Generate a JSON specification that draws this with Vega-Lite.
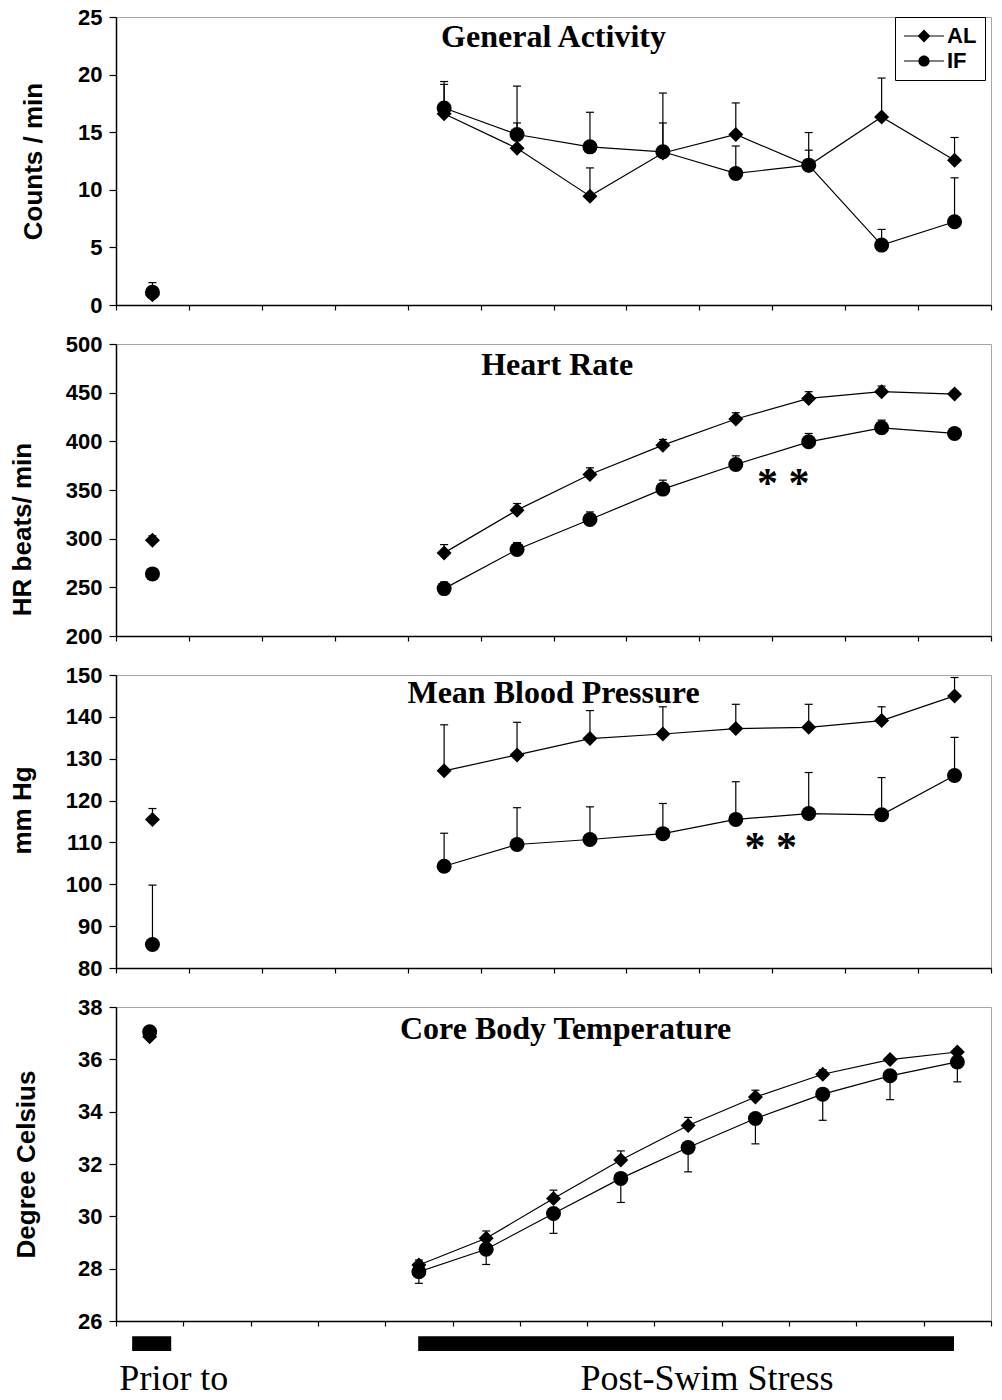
{
  "$schema": "https://vega.github.io/schema/vega-lite/v6.json",
  "background": "white",
  "padding": {"left": 8, "top": 5, "right": 5, "bottom": 0},
  "bounds": "flush",
  "spacing": 39,
  "config": {
    "font": "Liberation Sans",
    "view": {"stroke": "#a6a6a6", "strokeWidth": 1},
    "axis": {
      "domainColor": "black", "domainWidth": 1.5, "tickColor": "black", "tickWidth": 1.2,
      "grid": false, "labelFont": "Liberation Sans", "labelFontSize": 22, "labelFontWeight": "bold",
      "labelColor": "black", "labelPadding": 7, "tickSize": 7,
      "titleFont": "Liberation Sans", "titleFontSize": 26, "titleFontWeight": "bold", "titleColor": "black"
    },
    "axisX": {"labels": false, "tickSize": 5}
  },
  "datasets": {
    "ga": [
      {"g": "AL", "phase": "Prior", "slot": 0.5, "v": 0.9, "e": 1.6},
      {"g": "IF", "phase": "Prior", "slot": 0.5, "v": 1.1, "e": 1.94},
      {"g": "AL", "phase": "Post", "slot": 4.5, "v": 16.6, "e": 19.15},
      {"g": "IF", "phase": "Post", "slot": 4.5, "v": 17.1, "e": 19.4},
      {"g": "AL", "phase": "Post", "slot": 5.5, "v": 13.6, "e": 15.8},
      {"g": "IF", "phase": "Post", "slot": 5.5, "v": 14.8, "e": 19.0},
      {"g": "AL", "phase": "Post", "slot": 6.5, "v": 9.45, "e": 11.9},
      {"g": "IF", "phase": "Post", "slot": 6.5, "v": 13.73, "e": 16.73},
      {"g": "AL", "phase": "Post", "slot": 7.5, "v": 13.2, "e": 15.8},
      {"g": "IF", "phase": "Post", "slot": 7.5, "v": 13.3, "e": 18.4},
      {"g": "AL", "phase": "Post", "slot": 8.5, "v": 14.8, "e": 17.54},
      {"g": "IF", "phase": "Post", "slot": 8.5, "v": 11.42, "e": 13.8},
      {"g": "AL", "phase": "Post", "slot": 9.5, "v": 12.1, "e": 13.44},
      {"g": "IF", "phase": "Post", "slot": 9.5, "v": 12.14, "e": 14.97},
      {"g": "AL", "phase": "Post", "slot": 10.5, "v": 16.33, "e": 19.7},
      {"g": "IF", "phase": "Post", "slot": 10.5, "v": 5.2, "e": 6.56},
      {"g": "AL", "phase": "Post", "slot": 11.5, "v": 12.57, "e": 14.54},
      {"g": "IF", "phase": "Post", "slot": 11.5, "v": 7.23, "e": 11.04}
    ],
    "hr": [
      {"g": "AL", "phase": "Prior", "slot": 0.5, "v": 298.4, "e": 302.9},
      {"g": "IF", "phase": "Prior", "slot": 0.5, "v": 263.8, "e": 268.6},
      {"g": "AL", "phase": "Post", "slot": 4.5, "v": 285.4, "e": 293.9},
      {"g": "IF", "phase": "Post", "slot": 4.5, "v": 248.7, "e": 255.5},
      {"g": "AL", "phase": "Post", "slot": 5.5, "v": 329.3, "e": 336.1},
      {"g": "IF", "phase": "Post", "slot": 5.5, "v": 288.8, "e": 296.0},
      {"g": "AL", "phase": "Post", "slot": 6.5, "v": 365.9, "e": 372.8},
      {"g": "IF", "phase": "Post", "slot": 6.5, "v": 319.7, "e": 327.5},
      {"g": "AL", "phase": "Post", "slot": 7.5, "v": 396.1, "e": 401.9},
      {"g": "IF", "phase": "Post", "slot": 7.5, "v": 350.9, "e": 360.1},
      {"g": "AL", "phase": "Post", "slot": 8.5, "v": 422.9, "e": 429.4},
      {"g": "IF", "phase": "Post", "slot": 8.5, "v": 376.2, "e": 385.1},
      {"g": "AL", "phase": "Post", "slot": 9.5, "v": 444.1, "e": 451.0},
      {"g": "IF", "phase": "Post", "slot": 9.5, "v": 399.5, "e": 408.1},
      {"g": "AL", "phase": "Post", "slot": 10.5, "v": 451.0, "e": 456.8},
      {"g": "IF", "phase": "Post", "slot": 10.5, "v": 413.9, "e": 421.8},
      {"g": "AL", "phase": "Post", "slot": 11.5, "v": 448.6, "e": 452.0},
      {"g": "IF", "phase": "Post", "slot": 11.5, "v": 408.1, "e": 412.0}
    ],
    "bp": [
      {"g": "AL", "phase": "Prior", "slot": 0.5, "v": 115.5, "e": 118.1},
      {"g": "IF", "phase": "Prior", "slot": 0.5, "v": 85.6, "e": 99.8},
      {"g": "AL", "phase": "Post", "slot": 4.5, "v": 127.1, "e": 138.1},
      {"g": "IF", "phase": "Post", "slot": 4.5, "v": 104.3, "e": 112.2},
      {"g": "AL", "phase": "Post", "slot": 5.5, "v": 130.9, "e": 138.7},
      {"g": "IF", "phase": "Post", "slot": 5.5, "v": 109.5, "e": 118.3},
      {"g": "AL", "phase": "Post", "slot": 6.5, "v": 134.8, "e": 141.5},
      {"g": "IF", "phase": "Post", "slot": 6.5, "v": 110.7, "e": 118.5},
      {"g": "AL", "phase": "Post", "slot": 7.5, "v": 135.9, "e": 142.4},
      {"g": "IF", "phase": "Post", "slot": 7.5, "v": 112.1, "e": 119.3},
      {"g": "AL", "phase": "Post", "slot": 8.5, "v": 137.2, "e": 143.0},
      {"g": "IF", "phase": "Post", "slot": 8.5, "v": 115.5, "e": 124.5},
      {"g": "AL", "phase": "Post", "slot": 9.5, "v": 137.5, "e": 143.0},
      {"g": "IF", "phase": "Post", "slot": 9.5, "v": 116.9, "e": 126.7},
      {"g": "AL", "phase": "Post", "slot": 10.5, "v": 139.1, "e": 142.4},
      {"g": "IF", "phase": "Post", "slot": 10.5, "v": 116.6, "e": 125.5},
      {"g": "AL", "phase": "Post", "slot": 11.5, "v": 145.0, "e": 149.4},
      {"g": "IF", "phase": "Post", "slot": 11.5, "v": 126.0, "e": 135.1}
    ],
    "ct": [
      {"g": "AL", "phase": "Prior", "slot": 0.5, "v": 36.86, "e": 36.9},
      {"g": "IF", "phase": "Prior", "slot": 0.5, "v": 37.05, "e": 37.0},
      {"g": "AL", "phase": "Post", "slot": 4.5, "v": 28.14, "e": 28.33},
      {"g": "IF", "phase": "Post", "slot": 4.5, "v": 27.88, "e": 27.44},
      {"g": "AL", "phase": "Post", "slot": 5.5, "v": 29.16, "e": 29.44},
      {"g": "IF", "phase": "Post", "slot": 5.5, "v": 28.74, "e": 28.16},
      {"g": "AL", "phase": "Post", "slot": 6.5, "v": 30.68, "e": 31.0},
      {"g": "IF", "phase": "Post", "slot": 6.5, "v": 30.11, "e": 29.35},
      {"g": "AL", "phase": "Post", "slot": 7.5, "v": 32.15, "e": 32.5},
      {"g": "IF", "phase": "Post", "slot": 7.5, "v": 31.45, "e": 30.53},
      {"g": "AL", "phase": "Post", "slot": 8.5, "v": 33.47, "e": 33.78},
      {"g": "IF", "phase": "Post", "slot": 8.5, "v": 32.63, "e": 31.7},
      {"g": "AL", "phase": "Post", "slot": 9.5, "v": 34.56, "e": 34.82},
      {"g": "IF", "phase": "Post", "slot": 9.5, "v": 33.74, "e": 32.77},
      {"g": "AL", "phase": "Post", "slot": 10.5, "v": 35.43, "e": 35.6},
      {"g": "IF", "phase": "Post", "slot": 10.5, "v": 34.67, "e": 33.67},
      {"g": "AL", "phase": "Post", "slot": 11.5, "v": 35.99, "e": 36.1},
      {"g": "IF", "phase": "Post", "slot": 11.5, "v": 35.37, "e": 34.46},
      {"g": "AL", "phase": "Post", "slot": 12.5, "v": 36.28, "e": 36.4},
      {"g": "IF", "phase": "Post", "slot": 12.5, "v": 35.9, "e": 35.14}
    ]
  },
  "resolve": {"scale": {"x": "independent", "y": "independent", "shape": "independent"}, "legend": {"shape": "independent"}},
  "vconcat": [
    {
      "width": 875, "height": 288,
      "resolve": {"scale": {"shape": "independent"}, "legend": {"shape": "independent"}},
      "layer": [
        {"data": {"name": "ga"}, "mark": {"type": "rule", "color": "black", "strokeWidth": 1.2},
         "encoding": {
           "x": {"field": "slot", "type": "quantitative", "scale": {"domain": [0, 12], "nice": false, "zero": false}, "axis": {"values": [0,1,2,3,4,5,6,7,8,9,10,11,12], "labels": false, "title": null}},
           "y": {"field": "v", "type": "quantitative", "scale": {"domain": [0, 25], "nice": false}, "axis": {"values": [0,5,10,15,20,25], "title": "Counts / min", "titlePadding": 31}},
           "y2": {"field": "e"}}},
        {"data": {"name": "ga"}, "mark": {"type": "tick", "orient": "horizontal", "color": "black", "size": 8, "thickness": 1.2, "opacity": 1},
         "encoding": {
           "x": {"field": "slot", "type": "quantitative"},
           "y": {"field": "e", "type": "quantitative"}}},
        {"data": {"name": "ga"}, "mark": {"type": "line", "color": "black", "strokeWidth": 1.2},
         "encoding": {
           "x": {"field": "slot", "type": "quantitative"},
           "y": {"field": "v", "type": "quantitative"},
           "detail": [{"field": "g"}, {"field": "phase"}]}},
        {"data": {"name": "ga"}, "mark": {"type": "point", "filled": true, "color": "black", "opacity": 1, "size": 225},
         "encoding": {
           "x": {"field": "slot", "type": "quantitative"},
           "y": {"field": "v", "type": "quantitative"},
           "shape": {"field": "g", "type": "nominal", "scale": {"domain": ["AL", "IF"], "range": ["diamond", "circle"]}, "legend": null}}},
        {"data": {"name": "ga"}, "transform": [{"filter": "false"}],
         "mark": {"type": "point", "filled": true, "color": "black", "opacity": 1},
         "encoding": {
           "x": {"field": "slot", "type": "quantitative"},
           "y": {"field": "v", "type": "quantitative"},
           "shape": {"field": "g", "type": "nominal",
             "scale": {"domain": ["AL", "IF"], "range": [
               "M-2,-0.06L2,-0.06L2,0.06L-2,0.06ZM-0.64,0L0,-0.64L0.64,0L0,0.64Z",
               "M-2,-0.06L2,-0.06L2,0.06L-2,0.06ZM0.56,0C0.56,0.309,0.309,0.56,0,0.56C-0.309,0.56,-0.56,0.309,-0.56,0C-0.56,-0.309,-0.309,-0.56,0,-0.56C0.309,-0.56,0.56,-0.309,0.56,0Z"
             ]},
             "legend": {
               "orient": "none", "legendX": 779, "legendY": 0, "title": null,
               "strokeColor": "black", "fillColor": "white", "padding": 8,
               "symbolSize": 400, "symbolStrokeWidth": 0, "symbolFillColor": "black", "symbolOpacity": 1, "symbolOffset": 10,
               "labelFont": "Liberation Sans", "labelFontSize": 22, "labelFontWeight": "bold", "labelColor": "black", "labelOffset": 12,
               "rowPadding": 3
             }}}},
        {"data": {"values": [{}]}, "mark": {"type": "text", "font": "Liberation Serif", "fontWeight": "bold", "fontSize": 32, "align": "center", "baseline": "alphabetic", "color": "black"},
         "encoding": {"x": {"datum": 6}, "y": {"datum": 22.4}, "text": {"value": "General Activity"}}}
      ]
    },
    {
      "width": 875, "height": 292,
      "layer": [
        {"data": {"name": "hr"}, "mark": {"type": "rule", "color": "black", "strokeWidth": 1.2},
         "encoding": {
           "x": {"field": "slot", "type": "quantitative", "scale": {"domain": [0, 12], "nice": false, "zero": false}, "axis": {"values": [0,1,2,3,4,5,6,7,8,9,10,11,12], "labels": false, "title": null}},
           "y": {"field": "v", "type": "quantitative", "scale": {"domain": [200, 500], "nice": false, "zero": false}, "axis": {"values": [200,250,300,350,400,450,500], "title": "HR beats/ min", "titlePadding": 30, "titleY": 185}},
           "y2": {"field": "e"}}},
        {"data": {"name": "hr"}, "mark": {"type": "tick", "orient": "horizontal", "color": "black", "size": 8, "thickness": 1.2, "opacity": 1},
         "encoding": {
           "x": {"field": "slot", "type": "quantitative"},
           "y": {"field": "e", "type": "quantitative"}}},
        {"data": {"name": "hr"}, "mark": {"type": "line", "color": "black", "strokeWidth": 1.2},
         "encoding": {
           "x": {"field": "slot", "type": "quantitative"},
           "y": {"field": "v", "type": "quantitative"},
           "detail": [{"field": "g"}, {"field": "phase"}]}},
        {"data": {"name": "hr"}, "mark": {"type": "point", "filled": true, "color": "black", "opacity": 1, "size": 225},
         "encoding": {
           "x": {"field": "slot", "type": "quantitative"},
           "y": {"field": "v", "type": "quantitative"},
           "shape": {"field": "g", "type": "nominal", "scale": {"domain": ["AL", "IF"], "range": ["diamond", "circle"]}, "legend": null}}},
        {"data": {"values": [{}]}, "mark": {"type": "text", "font": "Liberation Serif", "fontWeight": "bold", "fontSize": 32, "align": "center", "baseline": "alphabetic", "color": "black"},
         "encoding": {"x": {"datum": 6.05}, "y": {"datum": 468}, "text": {"value": "Heart Rate"}}},
        {"data": {"values": [{}]}, "mark": {"type": "text", "font": "Liberation Serif", "fontWeight": "bold", "fontSize": 42, "align": "center", "baseline": "alphabetic", "color": "black"},
         "encoding": {"x": {"datum": 9.15}, "y": {"datum": 343}, "text": {"value": "* *"}}}
      ]
    },
    {
      "width": 875, "height": 293,
      "layer": [
        {"data": {"name": "bp"}, "mark": {"type": "rule", "color": "black", "strokeWidth": 1.2},
         "encoding": {
           "x": {"field": "slot", "type": "quantitative", "scale": {"domain": [0, 12], "nice": false, "zero": false}, "axis": {"values": [0,1,2,3,4,5,6,7,8,9,10,11,12], "labels": false, "title": null}},
           "y": {"field": "v", "type": "quantitative", "scale": {"domain": [80, 150], "nice": false, "zero": false}, "axis": {"values": [80,90,100,110,120,130,140,150], "title": "mm Hg", "titlePadding": 30, "titleY": 135}},
           "y2": {"field": "e"}}},
        {"data": {"name": "bp"}, "mark": {"type": "tick", "orient": "horizontal", "color": "black", "size": 8, "thickness": 1.2, "opacity": 1},
         "encoding": {
           "x": {"field": "slot", "type": "quantitative"},
           "y": {"field": "e", "type": "quantitative"}}},
        {"data": {"name": "bp"}, "mark": {"type": "line", "color": "black", "strokeWidth": 1.2},
         "encoding": {
           "x": {"field": "slot", "type": "quantitative"},
           "y": {"field": "v", "type": "quantitative"},
           "detail": [{"field": "g"}, {"field": "phase"}]}},
        {"data": {"name": "bp"}, "mark": {"type": "point", "filled": true, "color": "black", "opacity": 1, "size": 225},
         "encoding": {
           "x": {"field": "slot", "type": "quantitative"},
           "y": {"field": "v", "type": "quantitative"},
           "shape": {"field": "g", "type": "nominal", "scale": {"domain": ["AL", "IF"], "range": ["diamond", "circle"]}, "legend": null}}},
        {"data": {"values": [{}]}, "mark": {"type": "text", "font": "Liberation Serif", "fontWeight": "bold", "fontSize": 32, "align": "center", "baseline": "alphabetic", "color": "black"},
         "encoding": {"x": {"datum": 6.0}, "y": {"datum": 143.4}, "text": {"value": "Mean Blood Pressure"}}},
        {"data": {"values": [{}]}, "mark": {"type": "text", "font": "Liberation Serif", "fontWeight": "bold", "fontSize": 42, "align": "center", "baseline": "alphabetic", "color": "black"},
         "encoding": {"x": {"datum": 8.98}, "y": {"datum": 105.6}, "text": {"value": "* *"}}}
      ]
    },
    {
      "width": 875, "height": 314,
      "layer": [
        {"data": {"name": "ct"}, "mark": {"type": "rule", "color": "black", "strokeWidth": 1.2},
         "encoding": {
           "x": {"field": "slot", "type": "quantitative", "scale": {"domain": [0, 13], "nice": false, "zero": false}, "axis": {"values": [0,1,2,3,4,5,6,7,8,9,10,11,12,13], "labels": false, "title": null}},
           "y": {"field": "v", "type": "quantitative", "scale": {"domain": [26, 38], "nice": false, "zero": false}, "axis": {"values": [26,28,30,32,34,36,38], "title": "Degree Celsius", "titlePadding": 38}},
           "y2": {"field": "e"}}},
        {"data": {"name": "ct"}, "mark": {"type": "tick", "orient": "horizontal", "color": "black", "size": 8, "thickness": 1.2, "opacity": 1},
         "encoding": {
           "x": {"field": "slot", "type": "quantitative"},
           "y": {"field": "e", "type": "quantitative"}}},
        {"data": {"name": "ct"}, "mark": {"type": "line", "color": "black", "strokeWidth": 1.2},
         "encoding": {
           "x": {"field": "slot", "type": "quantitative"},
           "y": {"field": "v", "type": "quantitative"},
           "detail": [{"field": "g"}, {"field": "phase"}]}},
        {"data": {"name": "ct"}, "mark": {"type": "point", "filled": true, "color": "black", "opacity": 1, "size": 225},
         "encoding": {
           "x": {"field": "slot", "type": "quantitative"},
           "y": {"field": "v", "type": "quantitative"},
           "shape": {"field": "g", "type": "nominal", "scale": {"domain": ["AL", "IF"], "range": ["diamond", "circle"]}, "legend": null}}},
        {"data": {"values": [{}]}, "mark": {"type": "text", "font": "Liberation Serif", "fontWeight": "bold", "fontSize": 32, "align": "center", "baseline": "alphabetic", "color": "black"},
         "encoding": {"x": {"datum": 6.68}, "y": {"datum": 36.79}, "text": {"value": "Core Body Temperature"}}},
        {"data": {"values": [{}]}, "mark": {"type": "rect", "color": "black"},
         "encoding": {"x": {"datum": 0.24}, "x2": {"datum": 0.82}, "y": {"datum": 25.415}, "y2": {"datum": 24.85}}},
        {"data": {"values": [{}]}, "mark": {"type": "rect", "color": "black"},
         "encoding": {"x": {"datum": 4.49}, "x2": {"datum": 12.45}, "y": {"datum": 25.415}, "y2": {"datum": 24.85}}},
        {"data": {"values": [{}]}, "mark": {"type": "text", "font": "Liberation Serif", "fontSize": 36, "align": "left", "baseline": "alphabetic", "color": "black"},
         "encoding": {"x": {"datum": 0.05}, "y": {"datum": 23.35}, "text": {"value": "Prior to"}}},
        {"data": {"values": [{}]}, "mark": {"type": "text", "font": "Liberation Serif", "fontSize": 36, "align": "center", "baseline": "alphabetic", "color": "black"},
         "encoding": {"x": {"datum": 8.78}, "y": {"datum": 23.35}, "text": {"value": "Post-Swim Stress"}}}
      ]
    }
  ]
}
